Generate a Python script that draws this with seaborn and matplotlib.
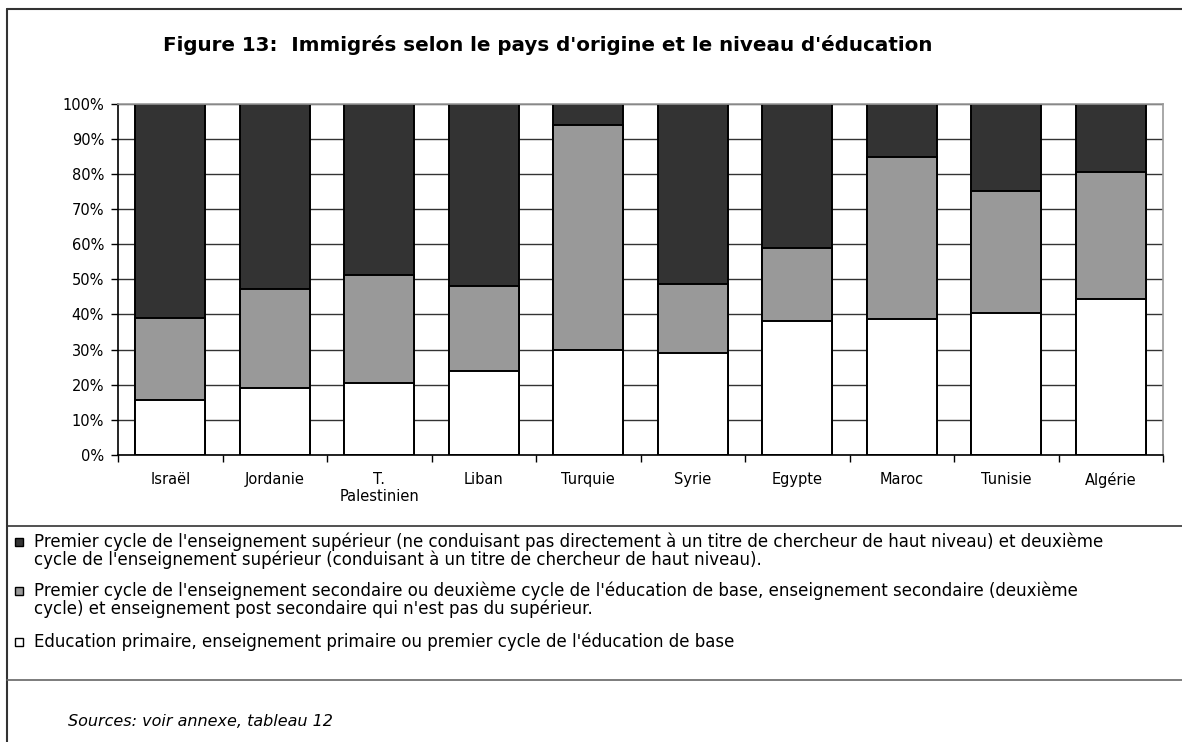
import pandas as pd
import seaborn as sns
import matplotlib.pyplot as plt
from matplotlib.patches import Rectangle
from matplotlib.ticker import FixedLocator

# Data (percent of immigrants per education level)
pays = ['Israël', 'Jordanie', 'T.\nPalestinien', 'Liban', 'Turquie',
        'Syrie', 'Egypte', 'Maroc', 'Tunisie', 'Algérie']
primaire = [15.6, 19.2, 20.4, 23.9, 30.0, 29.0, 38.2, 38.7, 40.5, 44.3]
secondaire = [23.4, 28.0, 30.8, 24.3, 63.9, 19.7, 20.7, 46.1, 34.7, 36.1]
superieur = [61.0, 52.8, 48.8, 51.8, 6.1, 51.3, 41.1, 15.2, 24.8, 19.6]

legend_labels = [
    "Premier cycle de l'enseignement supérieur (ne conduisant pas directement à un titre de chercheur de haut niveau) et deuxième\n"
    "cycle de l'enseignement supérieur (conduisant à un titre de chercheur de haut niveau).",
    "Premier cycle de l'enseignement secondaire ou deuxième cycle de l'éducation de base, enseignement secondaire (deuxième\n"
    "cycle) et enseignement post secondaire qui n'est pas du supérieur.",
    "Education primaire, enseignement primaire ou premier cycle de l'éducation de base",
]
title = "Figure 13:  Immigrés selon le pays d'origine et le niveau d'éducation"
source = "Sources: voir annexe, tableau 12"

colors = ['#333333', '#999999', '#ffffff']

df = pd.DataFrame({'pays': pays, 'primaire': primaire,
                   'secondaire': secondaire, 'superieur': superieur})
df['cum_prim'] = df['primaire']
df['cum_sec'] = df['primaire'] + df['secondaire']
df['cum_sup'] = df['cum_sec'] + df['superieur']

sns.set_style('white')
plt.rcParams['font.family'] = ['DejaVu Sans']
plt.rcParams['text.color'] = 'black'
plt.rcParams['xtick.color'] = 'black'
plt.rcParams['ytick.color'] = 'black'

W, H = 1182, 742
fig = plt.figure(figsize=(W / 100, H / 100), dpi=100)
ax = fig.add_axes([118 / W, 1 - 455 / H, 1045 / W, 351.5 / H])

# stacked bars: draw cumulative totals from tallest to shortest
for col, c in zip(['cum_sup', 'cum_sec', 'cum_prim'], colors):
    sns.barplot(data=df, x='pays', y=col, order=pays, color=c, saturation=1,
                edgecolor='black', linewidth=1.4, width=0.67, errorbar=None, ax=ax)

ax.set_xlim(-0.5, len(pays) - 0.5)
ax.set_ylim(0, 100)
ax.set_xlabel('')
ax.set_ylabel('')
ax.set_yticks(range(0, 101, 10))
ax.set_yticklabels([f'{v}%' for v in range(0, 101, 10)])
ax.yaxis.grid(True, color='#333333', linewidth=1)
ax.set_axisbelow(True)

for s in ['left', 'bottom']:
    ax.spines[s].set_color('black')
    ax.spines[s].set_linewidth(1.2)
for s in ['top', 'right']:
    ax.spines[s].set_color('#9a9a9a')
    ax.spines[s].set_linewidth(1.2)

ax.tick_params(axis='y', which='major', direction='out', length=5, width=1,
               color='black', labelcolor='black', pad=5, labelsize=10.5, left=True)
ax.tick_params(axis='x', which='major', length=0, pad=12, labelsize=10.5,
               labelcolor='black')
ax.xaxis.set_minor_locator(FixedLocator([i - 0.5 for i in range(len(pays) + 1)]))
ax.tick_params(axis='x', which='minor', direction='out', length=5, width=1,
               color='black', bottom=True)

# overlay in pixel coordinates for frame, title, legend and source
ov = fig.add_axes([0, 0, 1, 1], zorder=-1)
ov.set_xlim(0, W)
ov.set_ylim(H, 0)
ov.axis('off')
ov.plot([7, W], [9, 9], color='#333333', lw=1.5)
ov.plot([7, 7], [9, H], color='#333333', lw=1.5)
ov.plot([7, W], [526, 526], color='#333333', lw=1.2)
ov.plot([7, W], [680, 680], color='#666666', lw=1.2)

ov.text(548, 45, title, ha='center', va='center', fontsize=14.3,
        fontweight='bold', color='black')

ys = [542, 591, 642]
for lab, c, y in zip(legend_labels, colors, ys):
    ov.add_patch(Rectangle((15, y - 4), 8, 8, facecolor=c, edgecolor='black', lw=1))
    for k, line in enumerate(lab.split('\n')):
        ov.text(34, y + 18 * k, line, ha='left', va='center', fontsize=12,
                color='black')

ov.text(68, 722, source, ha='left', va='center', fontsize=11.5, style='italic',
        color='black')

fig.savefig('out.png', dpi=100)
